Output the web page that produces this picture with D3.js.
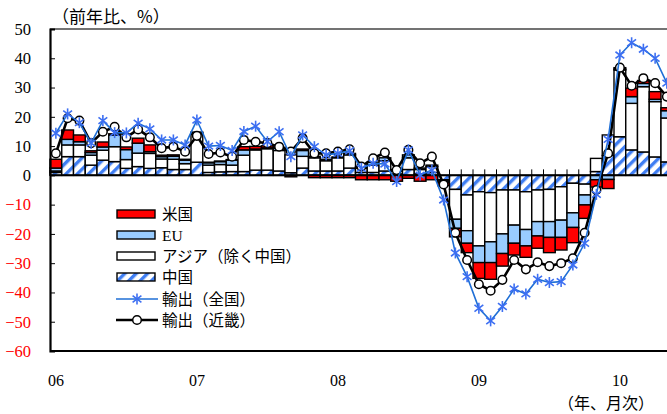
<!DOCTYPE html>
<html>
<head>
<meta charset="utf-8">
<script src="https://cdn.jsdelivr.net/npm/d3@7"></script>
<style>
  html, body { margin: 0; padding: 0; background: #fff; }
  svg { display: block; }
</style>
</head>
<body>
<script>
// Months Jan 2006 .. May 2010
const months = d3.range(53).map(i => new Date(2006, i, 1));
const yearLabels = ["06", "07", "08", "09", "10"];
const yTicks = d3.range(-60, 51, 10);

// Contributions by destination (percentage points)
const china = [1.0, 6.4, 6.4, 3.5, 5.2, 4.7, 2.4, 3.0, 2.4, 2.6, 2.0, 2.0,
  4.5, 1.0, 1.2, 1.3, 1.3, 1.8, 1.8, 1.5, 0.9, 2.5, 1.5, 1.5,
  1.5, 2.5, 1.0, 1.0, 1.5, 0.5, 2.0, 0.5, 1.0, -1.5, -4.8, -6.7,
  -5.6, -5.9, -5.0, -5.0, -5.6, -5.0, -4.8, -3.9, -2.7, -3.0, 1.3, 6.8,
  13.2, 8.7, 8.0, 6.3, 4.6];
const asia = [0.5, 4.0, 4.0, 3.4, 3.4, 5.1, 3.0, 4.6, 5.1, 3.0, 3.5, 2.0,
  9.5, 2.5, 2.5, 2.2, 5.6, 6.9, 7.3, 7.0, 6.1, 4.0, 4.5, 3.5,
  4.5, 4.5, 1.5, 2.5, 3.5, 1.0, 4.0, 1.5, 2.0, -0.5, -10.2, -12.2,
  -18.5, -16.8, -15.0, -12.0, -12.9, -10.8, -11.0, -11.4, -10.1, -3.7, 4.5, 7.0,
  22.8, 15.9, 22.3, 18.9, 15.0];
const eu = [1.0, 1.9, 1.1, 0.9, 1.1, 4.0, 3.4, 3.4, 0.6, 0.8, 1.0, 1.2,
  0.5, 0.8, 1.0, 1.7, 1.8, 0.3, 0.3, 0.8, 0.0, 2.0, 0.5, 0.5,
  0.3, 0.5, 0.5, 1.0, 1.0, 0.5, 1.0, 0.5, 0.5, -0.5, -3.1, -4.3,
  -5.7, -7.1, -6.7, -6.2, -5.6, -4.9, -5.4, -5.9, -5.0, -3.4, -1.5, -1.4,
  0.3, 2.3, 1.1, 0.8, 2.5];
const us = [3.0, 3.2, 2.3, 0.6, 1.7, 0.4, 0.9, 1.7, 2.3, 0.5, 0.5, 0.3,
  0.3, 0.2, 0.2, 0.2, 1.1, 0.9, 0.7, 0.3, -0.5, 0.5, -0.8, -0.8,
  -0.8, -0.8, -1.5, -1.5, -1.5, -2.0, -1.0, -2.0, -1.5, -1.0, -2.9, -3.2,
  -5.4, -5.7, -4.3, -4.0, -3.9, -4.2, -5.2, -4.3, -5.2, -4.6, -2.5, -3.1,
  0.5, 2.9, 1.0, 2.6, 1.0];

// Export growth, year on year (%)
const exportsJapan = [14.4, 21.0, 18.0, 11.0, 18.7, 14.6, 14.5, 17.8, 15.9, 12.1, 12.1, 10.4,
  18.9, 10.0, 10.2, 8.5, 15.0, 16.8, 11.5, 14.9, 6.4, 13.8, 9.8, 7.0,
  7.5, 8.4, 2.4, 4.1, 3.9, -2.1, 8.7, 0.1, 1.8, -8.4, -26.5, -34.6,
  -45.4, -49.7, -44.8, -38.8, -40.5, -35.5, -36.6, -36.3, -30.6, -23.2, -6.5, 12.3,
  41.1, 45.3, 43.1, 40.0, 31.5];
const exportsKinki = [7.5, 19.5, 18.7, 11.0, 14.9, 16.6, 13.0, 15.7, 13.0, 9.3, 9.8, 8.1,
  13.5, 7.3, 7.8, 6.4, 12.1, 11.5, 11.0, 9.8, 8.1, 12.7, 7.5, 7.5,
  8.1, 8.9, 3.0, 5.8, 7.8, 1.8, 8.7, 4.1, 6.4, -3.1, -19.6, -28.9,
  -37.2, -39.4, -35.7, -28.9, -32.1, -29.7, -31.0, -30.0, -28.3, -19.6, -5.0, 7.5,
  36.8, 30.6, 33.2, 31.5, 26.9];

const seriesData = [china, asia, eu, us];

const W = 667, H = 414;
const margin = { left: 50, top: 29, bottom: 351 };
const bandW = 11.75;

const svg = d3.select("body").append("svg").attr("width", W).attr("height", H)
  .style("font-family", "'Liberation Serif', 'Noto Sans CJK JP', serif");

const defs = svg.append("defs");
const pat = defs.append("pattern").attr("id", "hatch")
  .attr("patternUnits", "userSpaceOnUse").attr("width", 8).attr("height", 8)
  .attr("patternTransform", "rotate(45)");
pat.append("rect").attr("width", 8).attr("height", 8).attr("fill", "#fff");
pat.append("rect").attr("x", 0).attr("width", 3.4).attr("height", 8).attr("fill", "#3f7ef3");

const fills = ["url(#hatch)", "#ffffff", "#99ccff", "#ff0000"];

const x = d3.scaleBand().domain(d3.range(months.length))
  .range([margin.left, margin.left + months.length * bandW]).padding(0);
const y = d3.scaleLinear().domain([-60, 50]).range([margin.bottom, margin.top]);

const plotRight = margin.left + months.length * bandW;

// Diverging stack: positives upward from zero, negatives downward
const segs = [];
months.forEach((m, i) => {
  let pos = 0, neg = 0;
  seriesData.forEach((s, k) => {
    const v = s[i];
    if (v >= 0) { segs.push({ i, k, y0: pos, y1: pos + v }); pos += v; }
    else { segs.push({ i, k, y0: neg + v, y1: neg }); neg += v; }
  });
});

// Category ticks on the zero line
svg.append("g").selectAll("line").data(d3.range(months.length + 1)).join("line")
  .attr("x1", d => margin.left + d * bandW).attr("x2", d => margin.left + d * bandW)
  .attr("y1", y(0) - 6).attr("y2", y(0))
  .attr("stroke", "#000").attr("stroke-width", 1);

svg.append("g").selectAll("rect").data(segs.filter(d => d.y1 - d.y0 > 0)).join("rect")
  .attr("x", d => x(d.i)).attr("width", x.bandwidth())
  .attr("y", d => y(d.y1)).attr("height", d => y(d.y0) - y(d.y1))
  .attr("fill", d => fills[d.k]).attr("stroke", "#000").attr("stroke-width", 1.4);

// zero line
svg.append("line").attr("x1", margin.left).attr("x2", plotRight)
  .attr("y1", y(0)).attr("y2", y(0)).attr("stroke", "#000").attr("stroke-width", 2);

// plot frame
svg.append("line").attr("x1", margin.left).attr("x2", plotRight)
  .attr("y1", margin.top).attr("y2", margin.top).attr("stroke", "#444").attr("stroke-width", 1.5);
svg.append("line").attr("x1", margin.left).attr("x2", plotRight)
  .attr("y1", margin.bottom).attr("y2", margin.bottom).attr("stroke", "#000").attr("stroke-width", 2);

// y axis
const yAxis = d3.axisLeft(y).tickValues(yTicks).tickSize(-5).tickPadding(19)
  .tickFormat(d3.format("d"));
const gy = svg.append("g").attr("transform", `translate(${margin.left},0)`).call(yAxis);
gy.select(".domain").attr("stroke", "#000").attr("stroke-width", 2.2);
gy.selectAll(".tick line").attr("stroke", "#000").attr("stroke-width", 1);
gy.selectAll(".tick text").attr("font-size", 16.5)
  .attr("font-family", "'Liberation Serif', serif")
  .attr("fill", d => d < 0 ? "#ff0000" : "#000");

// year labels
const gx = svg.append("g");
gx.selectAll("text").data(yearLabels).join("text")
  .attr("x", (d, j) => x(j * 12) + x.bandwidth() / 2)
  .attr("y", 386).attr("text-anchor", "middle").attr("font-size", 16)
  .attr("font-family", "'Liberation Serif', serif").text(d => d);

svg.append("text").attr("x", 558).attr("y", 409).attr("font-size", 16)
  .attr("font-family", "'Noto Sans CJK JP', sans-serif").text("（年、月次）");
svg.append("text").attr("x", 52).attr("y", 23).attr("font-size", 17)
  .attr("font-family", "'Noto Sans CJK JP', sans-serif").text("（前年比、%）");

// lines
const line = d3.line().x((d, i) => x(i) + x.bandwidth() / 2).y(d => y(d));

function asterisk(g, color) {
  const r = 5.5;
  g.append("line").attr("x1", 0).attr("x2", 0).attr("y1", -r).attr("y2", r);
  g.append("line").attr("x1", -r * 0.8).attr("x2", r * 0.8).attr("y1", -r * 0.6).attr("y2", r * 0.6);
  g.append("line").attr("x1", -r * 0.8).attr("x2", r * 0.8).attr("y1", r * 0.6).attr("y2", -r * 0.6);
  g.attr("stroke", color).attr("stroke-width", 1.6);
}

svg.append("path").datum(exportsKinki).attr("d", line)
  .attr("fill", "none").attr("stroke", "#000").attr("stroke-width", 2.6);
svg.append("g").selectAll("circle").data(exportsKinki).join("circle")
  .attr("cx", (d, i) => x(i) + x.bandwidth() / 2).attr("cy", d => y(d)).attr("r", 4.3)
  .attr("fill", "#fff").attr("stroke", "#000").attr("stroke-width", 1.5);

svg.append("path").datum(exportsJapan).attr("d", line)
  .attr("fill", "none").attr("stroke", "#1f6fd6").attr("stroke-width", 1.6);
const jm = svg.append("g").selectAll("g").data(exportsJapan).join("g")
  .attr("transform", (d, i) => `translate(${x(i) + x.bandwidth() / 2},${y(d)})`);
jm.each(function () { asterisk(d3.select(this), "#3d6ff2"); });

// legend
const lg = svg.append("g").attr("font-size", 15.5)
  .attr("font-family", "'Liberation Serif', 'Noto Sans CJK JP', serif");
const legendRows = [
  { name: "米国", fill: fills[3] },
  { name: "EU", fill: fills[2] },
  { name: "アジア（除く中国）", fill: fills[1] },
  { name: "中国", fill: fills[0] }
];
const rowY = [214, 235, 256, 277, 299, 320];
legendRows.forEach((r, j) => {
  lg.append("rect").attr("x", 117).attr("y", rowY[j] - 4).attr("width", 38).attr("height", 8)
    .attr("fill", r.fill).attr("stroke", "#000").attr("stroke-width", 1.4);
  lg.append("text").attr("x", 162).attr("y", rowY[j] + 5.5).text(r.name);
});
lg.append("line").attr("x1", 116).attr("x2", 158).attr("y1", rowY[4]).attr("y2", rowY[4])
  .attr("stroke", "#1f6fd6").attr("stroke-width", 1.6);
asterisk(lg.append("g").attr("transform", `translate(137,${rowY[4]})`), "#3d6ff2");
lg.append("text").attr("x", 162).attr("y", rowY[4] + 5.5).text("輸出（全国）");
lg.append("line").attr("x1", 116).attr("x2", 158).attr("y1", rowY[5]).attr("y2", rowY[5])
  .attr("stroke", "#000").attr("stroke-width", 2.6);
lg.append("circle").attr("cx", 137).attr("cy", rowY[5]).attr("r", 4.3)
  .attr("fill", "#fff").attr("stroke", "#000").attr("stroke-width", 1.5);
lg.append("text").attr("x", 162).attr("y", rowY[5] + 5.5).text("輸出（近畿）");
</script>
</body>
</html>
